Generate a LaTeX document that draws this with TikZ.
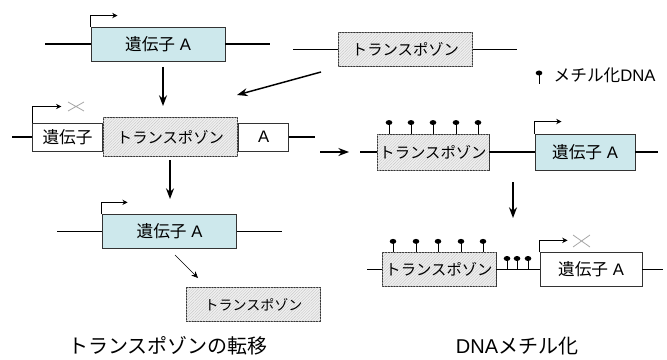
\documentclass[tikz,border=0pt]{standalone}
\usepackage{fontspec}
\setmainfont{Liberation Sans}
\newfontfamily\jp{Noto Sans CJK JP}
\usepackage{tikz}
\usetikzlibrary{arrows.meta, positioning, patterns.meta}
\definecolor{genefill}{HTML}{CDE8EC}
\tikzset{
  gene/.style   = {rectangle, draw=black!80, fill=genefill, inner sep=0pt,
                   line width=0.7pt, font=\fontsize{12.5}{14}\selectfont},
  blank/.style  = {rectangle, draw=black!80, fill=white, inner sep=0pt,
                   line width=0.7pt, font=\fontsize{12.5}{14}\selectfont},
  tpos/.style   = {rectangle, draw=black!80, fill=gray!12, inner sep=0pt,
                   line width=0.7pt, font=\fontsize{11.5}{13}\selectfont,
                   postaction={pattern={Lines[angle=45,distance=1.5pt,line width=0.3pt]},
                               pattern color=gray!45}},
  dna/.style    = {line width=1.1pt},
  arr/.style    = {-{Stealth[length=8pt,width=6pt]}, line width=1.1pt},
  sarr/.style   = {-{Stealth[length=5pt,width=4.5pt]}, line width=0.5pt},
  prom/.style   = {-{Stealth[length=4pt,width=4pt]}, line width=0.6pt},
  cross/.style  = {draw=gray!70, line width=0.6pt},
  meth/.pic     = {\draw[line width=0.6pt] (0,0) -- (0,-11);
                   \fill (0,-11) ellipse (3.3 and 2.5);}
}

\begin{document}
\begin{tikzpicture}[x=0.75pt, y=-0.75pt]
  \useasboundingbox (0,0) rectangle (667,360);

  % top row
  \node[gene] (gA1) at (158,44) [minimum width=100.5pt, minimum height=25.5pt] {{\jp 遺伝子} A};
  \coordinate (l1a) at (45,44);  \coordinate (l1b) at (270,44);
  \draw[dna] (l1a) -- (gA1.west); \draw[dna] (gA1.east) -- (l1b);
  \draw[prom] (gA1.north west) -- ++(0,-11) -- ++(27,0);

  \node[tpos] (tp1) at (405.5,49.5) [minimum width=101pt, minimum height=26pt] {\jp トランスポゾン};
  \coordinate (t1a) at (293,49.5); \coordinate (t1b) at (517,49.5);
  \draw[dna] (t1a) -- (tp1.west); \draw[dna] (tp1.east) -- (t1b);

  % legend
  \pic at (539,84) {meth};
  \node[anchor=west, font=\fontsize{12.5}{14}\selectfont] (leg) at (549,75) {{\jp メチル化}DNA};

  % arrows into the insertion
  \coordinate (a1s) at (163,67);  \coordinate (a1e) at (163,106);
  \draw[arr] (a1s) -- (a1e);
  \coordinate (a2s) at (321,72);  \coordinate (a2e) at (237,95);
  \draw[arr] (a2s) -- (a2e);

  % insertion row
  \node[blank] (g2a) at (67.5,137) [minimum width=52pt, minimum height=21pt] {\jp 遺伝子};
  \node[tpos]  (tp2) [right=0pt of g2a, minimum width=101pt, minimum height=29pt] {\jp トランスポゾン};
  \node[blank] (g2b) [right=0pt of tp2, minimum width=37.5pt, minimum height=21pt] {A};
  \coordinate (l2a) at (12,137); \coordinate (l2b) at (315,137);
  \draw[dna] (l2a) -- (g2a.west); \draw[dna] (g2b.east) -- (l2b);
  \draw[prom] (g2a.north west) -- ++(0,-16) -- ++(29,0);
  \draw[cross] (68,102) -- (84,111) (68,111) -- (84,102);

  % methylated row
  \coordinate (a3s) at (320,152); \coordinate (a3e) at (349,152);
  \draw[arr] (a3s) -- (a3e);
  \node[tpos] (tp3) at (433,152) [minimum width=84pt, minimum height=27pt] {\jp トランスポゾン};
  \node[gene] (gA3) at (585,152) [minimum width=75pt, minimum height=27pt] {{\jp 遺伝子} A};
  \coordinate (l3a) at (360,152); \coordinate (l3b) at (658,152);
  \draw[dna] (l3a) -- (tp3.west); \draw[dna] (tp3.east) -- (gA3.west);
  \draw[dna] (gA3.east) -- (l3b);
  \foreach \dx in {-44,-22,0,23,45}
    \pic at ([xshift=\dx*0.75pt]tp3.north) {meth};
  \draw[prom] (gA3.north west) -- ++(0,-12) -- ++(27,0);

  % excision
  \coordinate (a4s) at (170,160); \coordinate (a4e) at (170,199);
  \draw[arr] (a4s) -- (a4e);
  \node[gene] (gA4) at (169.5,231.5) [minimum width=101pt, minimum height=25pt] {{\jp 遺伝子} A};
  \coordinate (l4a) at (57,231.5); \coordinate (l4b) at (282,231.5);
  \draw[dna] (l4a) -- (gA4.west); \draw[dna] (gA4.east) -- (l4b);
  \draw[prom] (gA4.north west) -- ++(0,-12) -- ++(26,0);
  \coordinate (a5s) at (175,255); \coordinate (a5e) at (198,278);
  \draw[sarr] (a5s) -- (a5e);
  \node[tpos, font=\fontsize{10.5}{12}\selectfont] (tp5) at (253.5,304.5)
    [minimum width=101pt, minimum height=26pt] {\jp トランスポゾン};

  % silenced row
  \coordinate (a6s) at (513,182); \coordinate (a6e) at (513,218);
  \draw[arr] (a6s) -- (a6e);
  \node[tpos]  (tp6) at (439,269.5) [minimum width=85.5pt, minimum height=25pt] {\jp トランスポゾン};
  \node[blank] (gA6) at (591,269.5) [minimum width=76.5pt, minimum height=25pt] {{\jp 遺伝子} A};
  \coordinate (l6a) at (367,269.5); \coordinate (l6b) at (663,269.5);
  \draw[dna] (l6a) -- (tp6.west); \draw[dna] (tp6.east) -- (gA6.west);
  \draw[dna] (gA6.east) -- (l6b);
  \foreach \dx in {-46,-23,-1,22,44}
    \pic at ([xshift=\dx*0.75pt]tp6.north) {meth};
  \foreach \px in {507,517,528}
    \pic at (\px,269.5) {meth};
  \draw[prom] (gA6.north west) -- ++(0,-12) -- ++(28,0);
  \draw[cross] (573,235) -- (590,247) (573,247) -- (590,235);

  % captions
  \node[font=\fontsize{15}{18}\selectfont] (cap1) at (168,346) {\jp トランスポゾンの転移};
  \node[font=\fontsize{15}{18}\selectfont] (cap2) at (517,346) {DNA{\jp メチル化}};
\end{tikzpicture}
\end{document}
